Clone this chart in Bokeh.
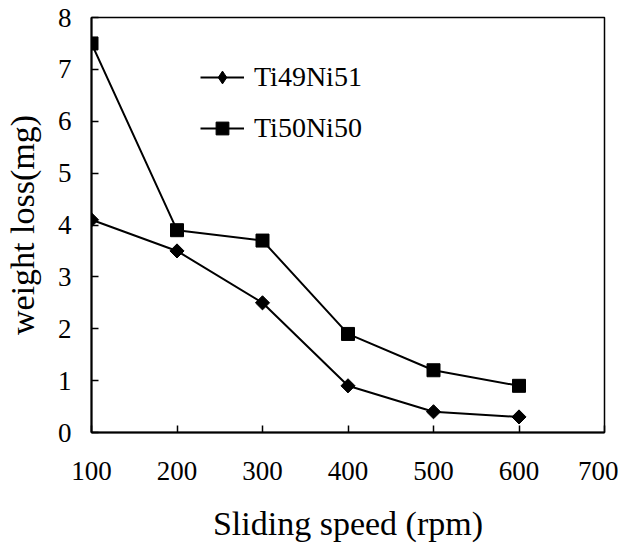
import math
from bokeh.plotting import figure
from bokeh.models import Range1d, FixedTicker, Legend, LegendItem
from bokeh.embed import file_html
from bokeh.resources import INLINE

speed = [100, 200, 300, 400, 500, 600]
ti49ni51 = [4.1, 3.5, 2.5, 0.9, 0.4, 0.3]
ti50ni50 = [7.5, 3.9, 3.7, 1.9, 1.2, 0.9]
x_ticks = [100, 200, 300, 400, 500, 600, 700]
y_ticks = [0, 1, 2, 3, 4, 5, 6, 7, 8]

FONT = "Liberation Serif"

p = figure(frame_width=513, frame_height=415,
           x_range=Range1d(100, 700), y_range=Range1d(0, 8),
           output_backend="svg", toolbar_location=None,
           min_border_left=86, min_border_top=17, min_border_right=14, min_border_bottom=5)
p.grid.visible = False
p.outline_line_color = "black"
p.outline_line_width = 1.5
p.background_fill_color = "white"
p.border_fill_color = "white"

for ax in (p.xaxis[0], p.yaxis[0]):
    ax.axis_line_width = 2
    ax.axis_line_color = "black"
    ax.major_tick_in = 7
    ax.major_tick_out = 0
    ax.minor_tick_line_color = None
    ax.major_tick_line_width = 1.5
    ax.major_tick_line_color = "black"
    ax.major_label_text_font = FONT
    ax.major_label_text_font_size = "27px"
    ax.major_label_text_color = "black"
    ax.axis_label_text_font = FONT
    ax.axis_label_text_font_style = "normal"
    ax.axis_label_text_color = "black"

p.xaxis.ticker = FixedTicker(ticks=x_ticks)
p.yaxis.ticker = FixedTicker(ticks=y_ticks)
p.xaxis.axis_label = "Sliding speed (rpm)"
p.yaxis.axis_label = "weight loss(mg)"
p.xaxis.axis_label_text_font_size = "34px"
p.yaxis.axis_label_text_font_size = "34px"
p.xaxis.major_label_standoff = 29
p.yaxis.major_label_standoff = 20
p.xaxis.axis_label_standoff = 22
p.yaxis.axis_label_standoff = 14

l1 = p.line(speed, ti49ni51, line_color="black", line_width=2)
# diamond glyph used for the legend entry (legend glyphs ignore marker angle);
# it lies fully under the rotated squares drawn next
m1_leg = p.scatter(speed, ti49ni51, marker="diamond", size=10,
                   fill_color="black", line_color="black")
m1 = p.scatter(speed, ti49ni51, marker="square", size=10, angle=math.pi / 4,
               fill_color="black", line_color="black")
l2 = p.line(speed, ti50ni50, line_color="black", line_width=2)
m2 = p.scatter(speed, ti50ni50, marker="square", size=13, fill_color="black", line_color="black")

legend = Legend(items=[LegendItem(label="Ti49Ni51", renderers=[l1, m1_leg]),
                       LegendItem(label="Ti50Ni50", renderers=[l2, m2])],
                location="top_left", border_line_color=None, background_fill_alpha=0,
                label_text_font=FONT, label_text_font_size="28px",
                label_text_color="black",
                glyph_width=44, glyph_height=32, spacing=19, label_standoff=10,
                margin=0, padding=0)
legend.location = (109, 288)
p.add_layout(legend)

open("out.html", "w").write(file_html(p, INLINE))
